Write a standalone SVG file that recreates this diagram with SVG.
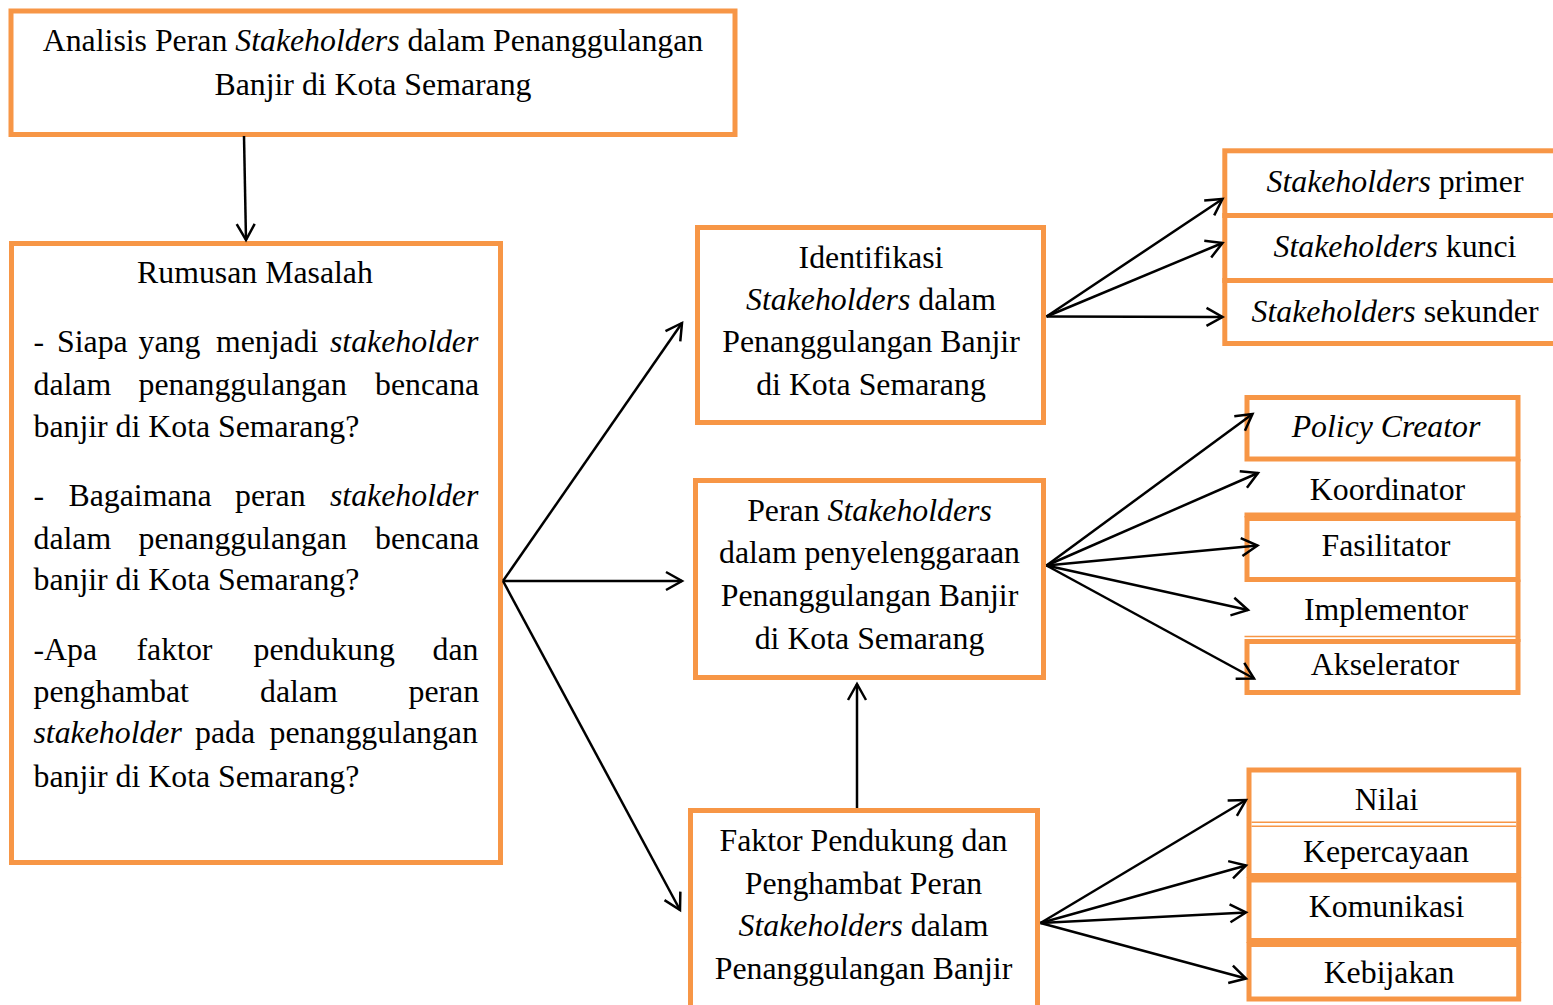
<svg xmlns="http://www.w3.org/2000/svg" width="1553" height="1005" viewBox="0 0 1553 1005">
<style>
.box{fill:#fff;stroke:#F79646;stroke-width:5}
.edge{fill:none;stroke:#F79646;stroke-width:5}
.thin{fill:none;stroke:#F79646;stroke-width:1.5}
.t{font-family:"Liberation Serif","Times New Roman",serif;font-size:31.8px;fill:#000}
.c{text-anchor:middle}
.e{text-anchor:end}
.i{font-style:italic}
.ln{stroke:#000;stroke-width:2.5;fill:none;marker-end:url(#ah)}
</style>
<defs>
<marker id="ah" markerUnits="userSpaceOnUse" markerWidth="20" markerHeight="20" refX="0" refY="0" orient="auto" style="overflow:visible">
<path d="M-16,-9 L0,0 L-16,9" fill="none" stroke="#000" stroke-width="2.5"/>
</marker>
</defs>
<rect width="1553" height="1005" fill="#fff"/>

<g id="judul">
<rect class="box" x="11" y="11" width="724" height="123.5"/>
<text class="t c" x="373" y="51">Analisis Peran <tspan class="i">Stakeholders</tspan> dalam Penanggulangan</text>
<text class="t c" x="373" y="95">Banjir di Kota Semarang</text>
</g>

<g id="rumusan">
<rect class="box" x="11.5" y="243.5" width="489" height="619"/>
<text class="t c" x="255" y="283">Rumusan Masalah</text>
<text class="t" y="352"><tspan x="33.5">-</tspan><tspan x="57">Siapa</tspan><tspan x="138.5">yang</tspan><tspan x="216">menjadi</tspan><tspan x="330" class="i">stakeholder</tspan></text>
<text class="t" y="395"><tspan x="33.5">dalam</tspan><tspan x="138.5">penanggulangan</tspan><tspan x="375">bencana</tspan></text>
<text class="t" x="33.5" y="437">banjir di Kota Semarang?</text>
<text class="t" y="506"><tspan x="33.5">-</tspan><tspan x="68.5">Bagaimana</tspan><tspan x="235">peran</tspan><tspan x="330" class="i">stakeholder</tspan></text>
<text class="t" y="549"><tspan x="33.5">dalam</tspan><tspan x="138.5">penanggulangan</tspan><tspan x="375">bencana</tspan></text>
<text class="t" x="33.5" y="590">banjir di Kota Semarang?</text>
<text class="t" y="660"><tspan x="33.5">-Apa</tspan><tspan x="136.5">faktor</tspan><tspan x="253.5">pendukung</tspan><tspan x="432.5">dan</tspan></text>
<text class="t" y="702"><tspan x="33.5">penghambat</tspan><tspan x="260">dalam</tspan><tspan x="408.5">peran</tspan></text>
<text class="t" y="743"><tspan x="33.5" class="i">stakeholder</tspan><tspan x="195">pada</tspan><tspan x="269.5">penanggulangan</tspan></text>
<text class="t" x="33.5" y="787">banjir di Kota Semarang?</text>
</g>

<g id="identifikasi">
<rect class="box" x="697.5" y="227.5" width="346" height="195"/>
<text class="t c" x="871" y="268">Identifikasi</text>
<text class="t c" x="871" y="310"><tspan class="i">Stakeholders</tspan> dalam</text>
<text class="t c" x="871" y="352">Penanggulangan Banjir</text>
<text class="t c" x="871" y="395">di Kota Semarang</text>
</g>

<g id="peran">
<rect class="box" x="695.5" y="480.5" width="348" height="197"/>
<text class="t c" x="869.5" y="521">Peran <tspan class="i">Stakeholders</tspan></text>
<text class="t c" x="869.5" y="563">dalam penyelenggaraan</text>
<text class="t c" x="869.5" y="606">Penanggulangan Banjir</text>
<text class="t c" x="869.5" y="649">di Kota Semarang</text>
</g>

<g id="faktor">
<rect class="box" x="690.5" y="810.5" width="347" height="215"/>
<text class="t c" x="863.5" y="851">Faktor Pendukung dan</text>
<text class="t c" x="863.5" y="894">Penghambat Peran</text>
<text class="t c" x="863.5" y="936"><tspan class="i">Stakeholders</tspan> dalam</text>
<text class="t c" x="863.5" y="979">Penanggulangan Banjir</text>
</g>

<g id="sh-primer">
<rect class="box" x="1224.8" y="150.8" width="340" height="64.7"/>
<text class="t c" x="1395" y="192"><tspan class="i">Stakeholders</tspan> primer</text>
</g>
<g id="sh-kunci">
<rect class="box" x="1224.8" y="215.5" width="340" height="65"/>
<text class="t c" x="1395" y="257"><tspan class="i">Stakeholders</tspan> kunci</text>
</g>
<g id="sh-sekunder">
<rect class="box" x="1224.8" y="280.5" width="340" height="63"/>
<text class="t c" x="1395" y="322"><tspan class="i">Stakeholders</tspan> sekunder</text>
</g>

<g id="policy-creator">
<rect class="box" x="1247" y="397.5" width="271" height="61.5"/>
<text class="t c i" x="1386" y="437">Policy Creator</text>
</g>
<g id="koordinator">
<path class="edge" d="M1518,459 V515 H1244.5"/>
<text class="t c" x="1387.5" y="500">Koordinator</text>
</g>
<g id="fasilitator">
<rect class="box" x="1247" y="518.5" width="271" height="61"/>
<text class="t c" x="1386" y="556">Fasilitator</text>
</g>
<g id="implementor">
<path class="edge" d="M1518,579.5 V642"/>
<path class="thin" d="M1244.5,636.5 H1516"/>
<text class="t c" x="1386" y="620">Implementor</text>
</g>
<g id="akselerator">
<rect class="box" x="1247" y="641.5" width="271" height="51"/>
<text class="t c" x="1385" y="675">Akselerator</text>
</g>

<g id="nilai">
<path class="edge" d="M1249,824 V770 H1518.7 V824"/>
<path class="thin" d="M1251.5,822.3 H1516.2"/>
<text class="t c" x="1386.5" y="810">Nilai</text>
</g>
<g id="kepercayaan">
<path class="edge" d="M1249,824 V875.5 H1518.7 V824"/>
<path class="thin" d="M1251.5,826.3 H1516.2"/>
<text class="t c" x="1386" y="862">Kepercayaan</text>
</g>
<g id="komunikasi">
<rect class="box" x="1249" y="880" width="269.7" height="60.5"/>
<text class="t c" x="1386.5" y="917">Komunikasi</text>
</g>
<g id="kebijakan">
<rect class="box" x="1249" y="944.5" width="269.7" height="54.5"/>
<text class="t c" x="1389" y="983">Kebijakan</text>
</g>

<g id="connectors">
<line class="ln" x1="244" y1="136" x2="246" y2="240"/>
<line class="ln" x1="503" y1="581" x2="682" y2="323"/>
<line class="ln" x1="503" y1="581" x2="682" y2="581"/>
<line class="ln" x1="503" y1="581" x2="680" y2="910"/>
<line class="ln" x1="857" y1="808" x2="857" y2="684"/>
<line class="ln" x1="1046.5" y1="316.5" x2="1222.5" y2="199"/>
<line class="ln" x1="1046.5" y1="316.5" x2="1222.5" y2="243"/>
<line class="ln" x1="1046.5" y1="316.5" x2="1222.5" y2="317"/>
<line class="ln" x1="1046.5" y1="565.5" x2="1252.5" y2="414"/>
<line class="ln" x1="1046.5" y1="565.5" x2="1258" y2="473"/>
<line class="ln" x1="1046.5" y1="565.5" x2="1257.5" y2="545.5"/>
<line class="ln" x1="1046.5" y1="565.5" x2="1248" y2="610"/>
<line class="ln" x1="1046.5" y1="565.5" x2="1254" y2="678.5"/>
<line class="ln" x1="1040.5" y1="923" x2="1246" y2="800"/>
<line class="ln" x1="1040.5" y1="923" x2="1246" y2="865.5"/>
<line class="ln" x1="1040.5" y1="923" x2="1246" y2="912.5"/>
<line class="ln" x1="1040.5" y1="923" x2="1246" y2="978.5"/>
</g>
</svg>
